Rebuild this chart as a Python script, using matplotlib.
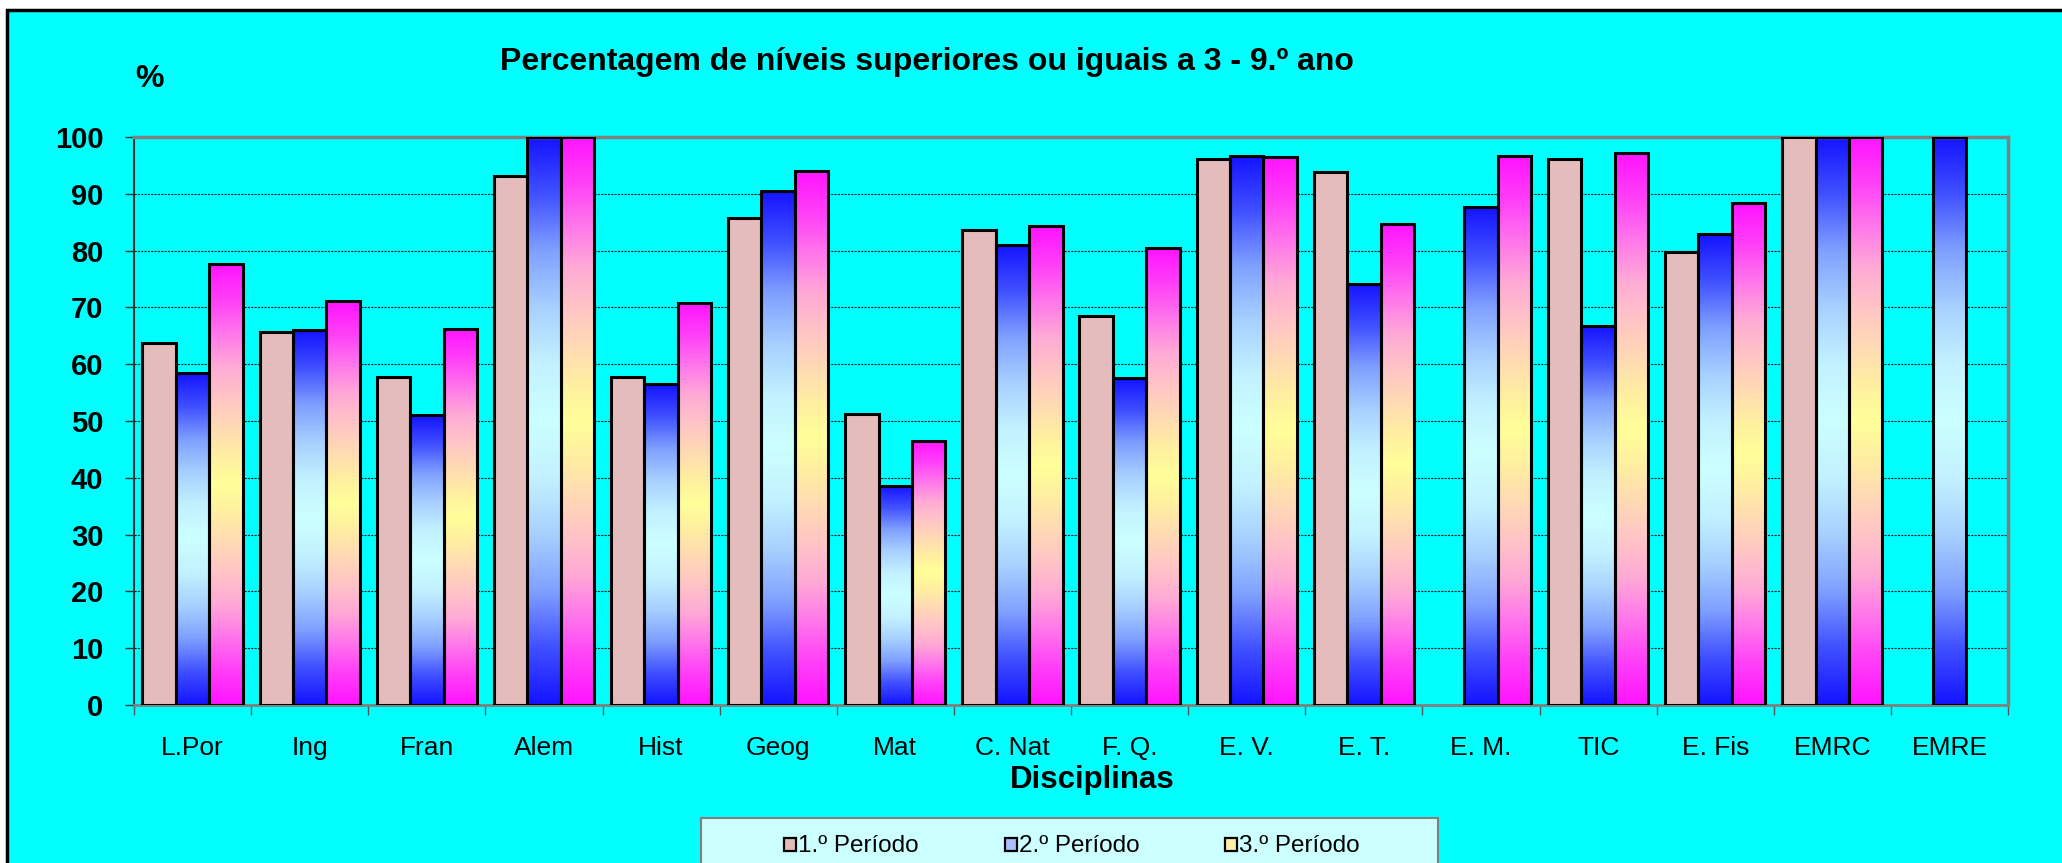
import numpy as np
import matplotlib
matplotlib.use('Agg')
import matplotlib.pyplot as plt
from matplotlib.colors import LinearSegmentedColormap
from matplotlib.patches import Rectangle

plt.rcParams['font.family'] = ['Liberation Sans', 'DejaVu Sans']

disciplinas = ['L.Por', 'Ing', 'Fran', 'Alem', 'Hist', 'Geog', 'Mat', 'C. Nat',
               'F. Q.', 'E. V.', 'E. T.', 'E. M.', 'TIC', 'E. Fis', 'EMRC', 'EMRE']
periodo1 = [63.7, 65.6, 57.7, 93.2, 57.8, 85.7, 51.3, 83.7, 68.4, 96.2, 93.8, None, 96.1, 79.8, 100, None]
periodo2 = [58.4, 66.0, 51.0, 100, 56.5, 90.5, 38.6, 81.0, 57.5, 96.7, 74.2, 87.7, 66.8, 83.0, 100, 100]
periodo3 = [77.6, 71.1, 66.2, 100, 70.8, 94.1, 46.5, 84.3, 80.5, 96.5, 84.7, 96.6, 97.1, 88.3, 100, None]
periodos = ['1.º Período', '2.º Período', '3.º Período']
y_ticks = [0, 10, 20, 30, 40, 50, 60, 70, 80, 90, 100]

W, H = 2062, 863


# symmetric gradient: colour at the bar top/bottom -> colour at the middle
def mirrored_cmap(name, stops):
    other = [(1 - p, c) for p, c in reversed(stops[:-1])]
    return LinearSegmentedColormap.from_list(name, stops + other)


azul = mirrored_cmap('azul', [(0, '#1414FF'), (0.1, '#4050FF'), (0.2, '#80A0FF'),
                              (0.3, '#A8D0FF'), (0.4, '#C2F2FF'), (0.5, '#CCFFFF')])
magenta = mirrored_cmap('magenta', [(0, '#FF14FF'), (0.08, '#FF40F8'), (0.16, '#FF7AEA'),
                                    (0.23, '#FFAAD6'), (0.3, '#FFC4C6'), (0.37, '#FFDAB4'),
                                    (0.44, '#FFF0A0'), (0.5, '#FFFF99')])
rosa = '#E4BCBC'


def fill_gradient(ax, bar, cmap):
    x0, y0 = bar.get_x(), bar.get_y()
    w, h = bar.get_width(), bar.get_height()
    grad = np.linspace(0, 1, 256).reshape(-1, 1)
    im = ax.imshow(grad, cmap=cmap, extent=[x0, x0 + w, y0, y0 + h], origin='lower',
                   aspect='auto', zorder=2, interpolation='bilinear')
    im.set_clip_path(bar)


def fy(px):
    # figure fraction from a pixel row counted from the top
    return 1 - px / H


fig = plt.figure(figsize=(W / 100, H / 100), dpi=100, facecolor='white')

# cyan chart area with black border (cropped at right / bottom)
fig.patches.append(Rectangle((7 / W, -0.1), 1.2, 1.1 - 10 / H, transform=fig.transFigure,
                             facecolor='#00FFFF', edgecolor='black', linewidth=2.5, zorder=-2))

ax = fig.add_axes([134 / W, fy(705), (2008 - 134) / W, (705 - 137) / H])
ax.set_facecolor('#00FFFF')
ax.set_zorder(1)

x = np.arange(len(disciplinas))
bw = 0.285
series = [periodo1, periodo2, periodo3]
fills = [rosa, azul, magenta]
for i, (vals, fill) in enumerate(zip(series, fills)):
    h = np.array([np.nan if v is None else v for v in vals], dtype=float)
    bars = ax.bar(x + (i - 1) * bw, h, bw,
                  facecolor=fill if isinstance(fill, str) else 'none',
                  edgecolor='black', linewidth=2.2, zorder=3)
    if not isinstance(fill, str):
        for b, v in zip(bars, h):
            if not np.isnan(v):
                fill_gradient(ax, b, fill)

ax.set_xlim(-0.5, len(disciplinas) - 0.5)
ax.set_ylim(0, 100)
ax.set_yticks(y_ticks)
ax.set_yticklabels([str(t) for t in y_ticks], fontsize=21, fontweight='bold')
ax.set_xticks(x)
ax.set_xticklabels(disciplinas, fontsize=19)
ax.set_xticks(np.arange(len(disciplinas) + 1) - 0.5, minor=True)
ax.tick_params(axis='x', which='major', length=0, pad=22)
ax.tick_params(axis='x', which='minor', length=7, width=1, color='#555555')
ax.tick_params(axis='y', length=6.5, width=1, color='#333333', pad=15.5)

ax.yaxis.grid(True, color='#202020', linestyle=(0, (2, 1)), linewidth=0.8)
ax.set_axisbelow(True)

for s in ['top', 'right']:
    ax.spines[s].set_color('#808080')
    ax.spines[s].set_linewidth(2.5)
ax.spines['bottom'].set_color('#808080')
ax.spines['bottom'].set_linewidth(2)
ax.spines['left'].set_color('#333333')
ax.spines['left'].set_linewidth(1.5)

fig.text(927 / W, fy(70), 'Percentagem de níveis superiores ou iguais a 3 - 9.º ano',
         ha='center', va='baseline', fontsize=23, fontweight='bold')
fig.text(150 / W, fy(87), '%', ha='center', va='baseline', fontsize=23, fontweight='bold')
fig.text(1092 / W, fy(788), 'Disciplinas', ha='center', va='baseline',
         fontsize=22.5, fontweight='bold')

# legend box
fig.patches.append(Rectangle((701 / W, fy(866)), (1438 - 701) / W, 48 / H,
                             transform=fig.transFigure, facecolor='#CCFFFF',
                             edgecolor='#808080', linewidth=1.5, zorder=1))
marker_x = [784, 1005, 1225]
marker_fc = [rosa, '#A8C0FF', '#FFF0A8']
for mx, fc, lab in zip(marker_x, marker_fc, periodos):
    fig.patches.append(Rectangle((mx / W, fy(851)), 12 / W, 13 / H,
                                 transform=fig.transFigure, facecolor=fc,
                                 edgecolor='black', linewidth=1.6, zorder=2))
    fig.text((mx + 14) / W, fy(852), lab, ha='left', va='baseline', fontsize=17.5)

fig.savefig('out.png', dpi=100, facecolor='white')
